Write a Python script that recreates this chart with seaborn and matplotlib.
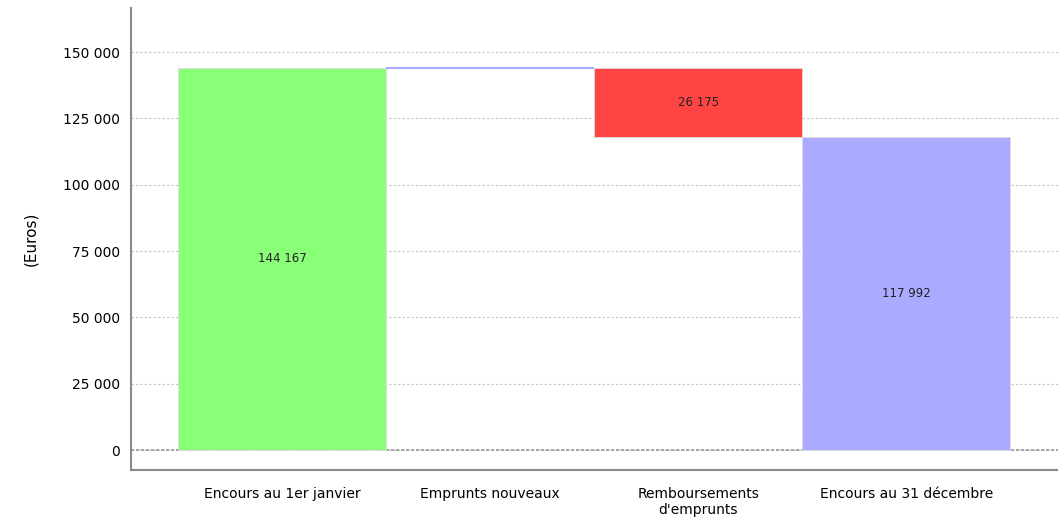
import matplotlib
matplotlib.use("Agg")
import matplotlib.pyplot as plt
import matplotlib.ticker as mticker
import numpy as np
import seaborn as sns

# donnees
categories = ["Encours au 1er janvier", "Emprunts nouveaux",
              "Remboursements\nd'emprunts", "Encours au 31 décembre"]
valeurs = [144167, 0, 26175, 117992]
bases = [0, 144167, 117992, 0]
couleurs = ["#88ff77", "#aaaaff", "#ff4444", "#aaaaff"]

sns.set_style("white")
plt.rcParams["font.family"] = ["DejaVu Sans"]
plt.rcParams["text.color"] = "black"
plt.rcParams["xtick.color"] = "black"
plt.rcParams["ytick.color"] = "black"
plt.rcParams["axes.labelcolor"] = "black"

fig = plt.figure(figsize=(10.58, 5.2), dpi=100)
ax = fig.add_axes([131 / 1058, 50 / 520, 927 / 1058, 462 / 520])

sns.barplot(x=categories, y=valeurs, bottom=bases, color="white", width=1.0,
            ax=ax, zorder=3)

for i, p in enumerate(ax.patches):
    p.set_facecolor(couleurs[i])
    if valeurs[i] == 0:
        p.set_edgecolor(couleurs[i])
        p.set_linewidth(1.5)
    else:
        p.set_edgecolor("#dddddd")
        p.set_linewidth(0.6)

# etiquettes des valeurs
for i, v in enumerate(valeurs):
    if v == 0:
        continue
    txt = f"{v:,}".replace(",", " ")
    ax.text(i, bases[i] + v / 2, txt, ha="center", va="center",
            fontsize=8.5, color="#222222", zorder=4)

ax.set_xlim(-0.726, 3.73)
ax.yaxis.set_major_locator(mticker.MultipleLocator(25000))
ax.yaxis.set_major_formatter(mticker.FuncFormatter(lambda v, p: f"{int(v):,}".replace(",", " ")))
ax.set_ylim(-7500, 166600)

ax.grid(axis="y", color="#c4c4c4", linestyle=(0, (2, 2)), linewidth=0.8, zorder=0)
ax.axhline(0, color="#999999", linestyle=(0, (2, 1)), linewidth=1.2, zorder=1)

for s in ["top", "right"]:
    ax.spines[s].set_visible(False)
for s in ["left", "bottom"]:
    ax.spines[s].set_color("#888888")
    ax.spines[s].set_linewidth(1.5)

ax.tick_params(axis="y", length=4, width=1, color="#888888", labelsize=10, pad=4)
ax.tick_params(axis="x", length=0, labelsize=10, pad=12)
ax.set_ylabel("(Euros)", fontsize=11, labelpad=18)
ax.set_xlabel("")

plt.savefig("out.png", dpi=100)
